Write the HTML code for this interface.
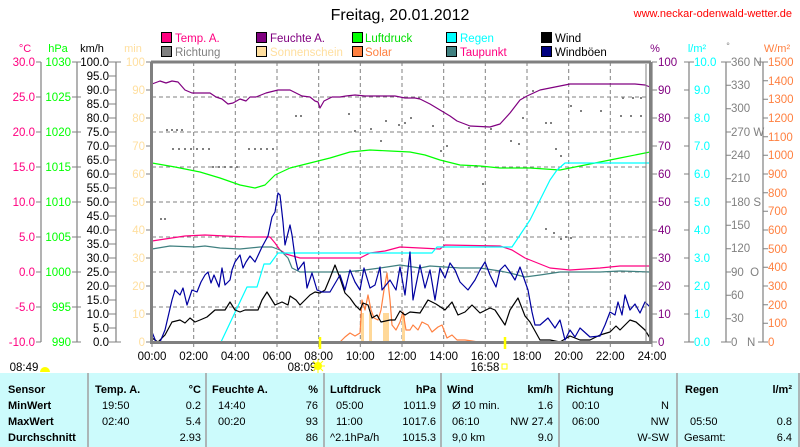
<!DOCTYPE html>
<html><head><meta charset="utf-8"><style>
html,body{margin:0;padding:0;background:#fff;}
svg{display:block;font-family:"Liberation Sans",sans-serif;}
</style></head><body>
<svg width="800" height="447" viewBox="0 0 800 447" xmlns="http://www.w3.org/2000/svg">
<rect width="800" height="447" fill="#fff"/>
<text x="400" y="20" font-size="16" text-anchor="middle" fill="#000">Freitag, 20.01.2012</text>
<text x="792" y="17" font-size="11" text-anchor="end" fill="#ff0000">www.neckar-odenwald-wetter.de</text>
<!-- legend -->
<g font-size="11.5" stroke="#000" stroke-width="1">
<rect x="161.5" y="32.5" width="10" height="10" fill="#ff0080"/><rect x="161.5" y="46.5" width="10" height="10" fill="#808080"/>
<rect x="256.5" y="32.5" width="10" height="10" fill="#800080"/><rect x="256.5" y="46.5" width="10" height="10" fill="#ffdf9f"/>
<rect x="352.5" y="32.5" width="10" height="10" fill="#00ff00"/><rect x="352.5" y="46.5" width="10" height="10" fill="#ff8040"/>
<rect x="446.5" y="32.5" width="10" height="10" fill="#00ffff"/><rect x="446.5" y="46.5" width="10" height="10" fill="#408080"/>
<rect x="541.5" y="32.5" width="10" height="10" fill="#000000"/><rect x="541.5" y="46.5" width="10" height="10" fill="#000080"/>
</g>
<g font-size="11.5" stroke="none">
<text x="175" y="42" fill="#ff0080">Temp. A.</text><text x="175" y="56" fill="#808080">Richtung</text>
<text x="270" y="42" fill="#800080">Feuchte A.</text><text x="270" y="56" fill="#ffdf9f">Sonnenschein</text>
<text x="365" y="42" fill="#00dd00">Luftdruck</text><text x="365" y="56" fill="#ff8040">Solar</text>
<text x="460" y="42" fill="#00ffff">Regen</text><text x="460" y="56" fill="#ff0080">Taupunkt</text>
<text x="555" y="42" fill="#000">Wind</text><text x="555" y="56" fill="#000">Windböen</text>
</g>
<!-- axis unit labels -->
<g font-size="11">
<text x="25" y="52" text-anchor="middle" fill="#ff0080">°C</text>
<text x="58" y="52" text-anchor="middle" fill="#00ff00">hPa</text>
<text x="92" y="52" text-anchor="middle" fill="#000">km/h</text>
<text x="133" y="52" text-anchor="middle" fill="#ffdf9f">min</text>
<text x="655" y="52" text-anchor="middle" fill="#800080">%</text>
<text x="697" y="52" text-anchor="middle" fill="#00ffff">l/m²</text>
<text x="728" y="49" text-anchor="middle" fill="#808080" font-size="9">°</text>
<text x="777" y="52" text-anchor="middle" fill="#ff8040">W/m²</text>
</g>
<!-- axes lines -->
<g stroke="#808080" stroke-width="1.2">
<line x1="41" y1="62" x2="41" y2="342"/><line x1="77" y1="62" x2="77" y2="342"/><line x1="116" y1="62" x2="116" y2="342"/>
<line x1="652" y1="62" x2="652" y2="342"/><line x1="689" y1="62" x2="689" y2="342"/><line x1="726" y1="62" x2="726" y2="342"/><line x1="763" y1="62" x2="763" y2="342"/>
</g>
<g font-size="11.5" id="leftax">
<!-- °C -->
<g fill="#ff0080" text-anchor="end">
<text x="35" y="66">30.0</text><text x="35" y="101">25.0</text><text x="35" y="136">20.0</text><text x="35" y="171">15.0</text><text x="35" y="206">10.0</text><text x="35" y="241">5.0</text><text x="35" y="276">0.0</text><text x="35" y="311">-5.0</text><text x="35" y="346">-10.0</text>
</g>
<g stroke="#808080"><path d="M36 62h5M36 97h5M36 132h5M36 167h5M36 202h5M36 237h5M36 272h5M36 307h5M36 342h5"/>
<path d="M72 62h5M72 97h5M72 132h5M72 167h5M72 202h5M72 237h5M72 272h5M72 307h5M72 342h5"/>
<path d="M77 62h4M77 97h4M77 132h4M77 167h4M77 202h4M77 237h4M77 272h4M77 307h4M77 342h4"/>
<path d="M109 62h12M109 76h7M109 90h7M109 104h7M109 118h7M109 132h7M109 146h7M109 160h7M109 174h7M109 188h7M109 202h7M109 216h7M109 230h7M109 244h7M109 258h7M109 272h7M109 286h7M109 300h7M109 314h7M109 328h7M109 342h12"/>
<path d="M146 62h5M146 90h5M146 118h5M146 146h5M146 174h5M146 202h5M146 230h5M146 258h5M146 286h5M146 314h5M146 342h5"/>
<path d="M652 62h5M652 90h5M652 118h5M652 146h5M652 174h5M652 202h5M652 230h5M652 258h5M652 286h5M652 314h5M652 342h5"/>
<path d="M684 62h10M684 90h5M684 118h5M684 146h5M684 174h5M684 202h5M684 230h5M684 258h5M684 286h5M684 314h5M684 342h10"/>
<path d="M721 62h10M726 85.3h5M726 108.7h5M726 132h5M726 155.3h5M726 178.7h5M726 202h5M726 225.3h5M726 248.7h5M726 272h5M726 295.3h5M726 318.7h5M721 342h10"/>
<path d="M758 62h10M763 80.7h5M763 99.3h5M763 118h5M763 136.7h5M763 155.3h5M763 174h5M763 192.7h5M763 211.3h5M763 230h5M763 248.7h5M763 267.3h5M763 286h5M763 304.7h5M763 323.3h5M758 342h10"/>
</g>
<g fill="#00ff00" text-anchor="end">
<text x="71" y="66">1030</text><text x="71" y="101">1025</text><text x="71" y="136">1020</text><text x="71" y="171">1015</text><text x="71" y="206">1010</text><text x="71" y="241">1005</text><text x="71" y="276">1000</text><text x="71" y="311">995</text><text x="71" y="346">990</text>
</g>
<g fill="#000" text-anchor="end">
<text x="109" y="66">100.0</text><text x="109" y="80">95.0</text><text x="109" y="94">90.0</text><text x="109" y="108">85.0</text><text x="109" y="122">80.0</text><text x="109" y="136">75.0</text><text x="109" y="150">70.0</text><text x="109" y="164">65.0</text><text x="109" y="178">60.0</text><text x="109" y="192">55.0</text><text x="109" y="206">50.0</text><text x="109" y="220">45.0</text><text x="109" y="234">40.0</text><text x="109" y="248">35.0</text><text x="109" y="262">30.0</text><text x="109" y="276">25.0</text><text x="109" y="290">20.0</text><text x="109" y="304">15.0</text><text x="109" y="318">10.0</text><text x="109" y="332">5.0</text><text x="109" y="346">0.0</text>
</g>
<g fill="#ffdf9f" text-anchor="end">
<text x="145" y="66">100</text><text x="145" y="94">90</text><text x="145" y="122">80</text><text x="145" y="150">70</text><text x="145" y="178">60</text><text x="145" y="206">50</text><text x="145" y="234">40</text><text x="145" y="262">30</text><text x="145" y="290">20</text><text x="145" y="318">10</text><text x="145" y="346">0</text>
</g>
<g fill="#800080">
<text x="658" y="66">100</text><text x="658" y="94">90</text><text x="658" y="122">80</text><text x="658" y="150">70</text><text x="658" y="178">60</text><text x="658" y="206">50</text><text x="658" y="234">40</text><text x="658" y="262">30</text><text x="658" y="290">20</text><text x="658" y="318">10</text><text x="658" y="346">0</text>
</g>
<g fill="#00ffff">
<text x="694" y="66">10.0</text><text x="694" y="94">9.0</text><text x="694" y="122">8.0</text><text x="694" y="150">7.0</text><text x="694" y="178">6.0</text><text x="694" y="206">5.0</text><text x="694" y="234">4.0</text><text x="694" y="262">3.0</text><text x="694" y="290">2.0</text><text x="694" y="318">1.0</text><text x="694" y="346">0.0</text>
</g>
<g fill="#808080">
<text x="731" y="66">360 N</text><text x="731" y="89">330</text><text x="731" y="112">300</text><text x="731" y="136">270 W</text><text x="731" y="159">240</text><text x="731" y="182">210</text><text x="731" y="206">180 S</text><text x="731" y="229">150</text><text x="731" y="252">120</text><text x="731" y="276">90&#160;&#160;O</text><text x="731" y="299">60</text><text x="731" y="322">30</text><text x="731" y="346">0&#160;&#160;&#160;N</text>
</g>
<g fill="#ff8040">
<text x="768" y="66">1500</text><text x="768" y="85">1400</text><text x="768" y="103">1300</text><text x="768" y="122">1200</text><text x="768" y="141">1100</text><text x="768" y="159">1000</text><text x="768" y="178">900</text><text x="768" y="197">800</text><text x="768" y="215">700</text><text x="768" y="234">600</text><text x="768" y="253">500</text><text x="768" y="271">400</text><text x="768" y="290">300</text><text x="768" y="309">200</text><text x="768" y="327">100</text><text x="768" y="346">0</text>
</g>
</g>
<!-- grid -->
<g stroke="#808080" stroke-dasharray="4,3" stroke-width="1">
<path d="M193.7 62V342M235.3 62V342M277 62V342M318.7 62V342M360.3 62V342M402 62V342M443.7 62V342M485.3 62V342M527 62V342M568.7 62V342M610.3 62V342"/>
<path d="M152 97H650M152 132H650M152 167H650M152 202H650M152 237H650M152 272H650M152 307H650"/>
</g>
<!-- direction dots -->
<g fill="#808080">
<rect x="166" y="129" width="2" height="2"/><rect x="171" y="129" width="2" height="2"/><rect x="176" y="129" width="2" height="2"/><rect x="181" y="129" width="2" height="2"/>
<rect x="172" y="148" width="2" height="2"/><rect x="178" y="148" width="2" height="2"/><rect x="184" y="148" width="2" height="2"/><rect x="190" y="148" width="2" height="2"/><rect x="196" y="148" width="2" height="2"/><rect x="202" y="148" width="2" height="2"/><rect x="208" y="148" width="2" height="2"/>
<rect x="160" y="218" width="2" height="2"/><rect x="164" y="218" width="2" height="2"/>
<rect x="212" y="166" width="2" height="2"/><rect x="218" y="166" width="2" height="2"/><rect x="224" y="166" width="2" height="2"/><rect x="230" y="166" width="2" height="2"/><rect x="236" y="166" width="2" height="2"/>
<rect x="248" y="148" width="2" height="2"/><rect x="254" y="148" width="2" height="2"/><rect x="260" y="148" width="2" height="2"/><rect x="266" y="148" width="2" height="2"/><rect x="272" y="148" width="2" height="2"/>
<rect x="295" y="115" width="2" height="2"/><rect x="300" y="115" width="2" height="2"/><rect x="348" y="113" width="2" height="2"/><rect x="354" y="130" width="2" height="2"/><rect x="370" y="128" width="2" height="2"/><rect x="380" y="140" width="2" height="2"/><rect x="385" y="120" width="2" height="2"/><rect x="398" y="124" width="2" height="2"/><rect x="404" y="122" width="2" height="2"/><rect x="410" y="117" width="2" height="2"/><rect x="418" y="97" width="2" height="2"/><rect x="432" y="125" width="2" height="2"/><rect x="440" y="150" width="2" height="2"/><rect x="446" y="145" width="2" height="2"/><rect x="468" y="127" width="2" height="2"/><rect x="475" y="165" width="2" height="2"/><rect x="482" y="183" width="2" height="2"/><rect x="490" y="128" width="2" height="2"/><rect x="510" y="140" width="2" height="2"/><rect x="518" y="143" width="2" height="2"/><rect x="522" y="117" width="2" height="2"/><rect x="532" y="90" width="2" height="2"/><rect x="545" y="122" width="2" height="2"/><rect x="550" y="122" width="2" height="2"/><rect x="555" y="148" width="2" height="2"/><rect x="560" y="155" width="2" height="2"/><rect x="570" y="105" width="2" height="2"/><rect x="580" y="110" width="2" height="2"/><rect x="600" y="110" width="2" height="2"/><rect x="620" y="115" width="2" height="2"/><rect x="630" y="115" width="2" height="2"/><rect x="640" y="115" width="2" height="2"/><rect x="622" y="97" width="2" height="2"/><rect x="632" y="97" width="2" height="2"/><rect x="640" y="97" width="2" height="2"/>
<rect x="545" y="228" width="2" height="2"/><rect x="553" y="232" width="2" height="2"/><rect x="560" y="238" width="2" height="2"/><rect x="565" y="236" width="2" height="2"/><rect x="570" y="237" width="2" height="2"/>
</g>
<!-- sunshine bars -->
<g fill="#ffd898">
<rect x="361" y="313" width="3" height="29"/><rect x="369" y="313" width="3" height="29"/><rect x="383" y="313" width="3" height="29"/><rect x="386" y="313" width="3" height="29"/><rect x="402" y="316" width="3" height="26"/>
</g>
<g fill="none" stroke-width="1.2" stroke-linejoin="round">
<polyline stroke="#ff8040" points="322,342 340,342 345,337 350,333 355,336 360,333 362,300 365,310 368,295 371,310 374,318 378,320 381,310 384,290 387,273 390,300 392,325 396,330 400,322 403,312 406,330 410,330 413,325 418,330 422,322 428,325 432,332 438,327 442,325 447,338 452,335 457,340 465,340 472,341 478,342"/>
<polyline stroke="#00ff00" points="152,163 175,167 200,172 220,178 240,185 255,188 265,185 275,175 290,168 310,163 330,158 350,152 370,150 390,151 410,152 425,155 440,160 460,165 480,166 500,168 530,168 560,170 580,166 600,162 620,158 640,154 650,152"/>
<polyline stroke="#800080" points="152,84 160,81 166,83 172,81 178,82 185,90 192,93 210,93 216,97 222,99 228,104 233,103 240,99 246,101 250,97 256,97 266,93 278,90 290,90 302,96 310,97 315,101 318,102 320,108 324,101 332,97 340,97 346,96 355,95 365,96 380,96 395,96 405,98 415,98 420,99 430,104 440,110 450,116 457,121 470,126 490,127 500,124 510,113 520,100 527,96 540,90 555,87 570,84 600,84 620,84 635,84 645,85 650,87"/>
<polyline stroke="#ff0080" points="152,241 165,239 185,236 205,235 225,236 250,237 270,237 275,243 280,250 286,254 300,258 340,258 360,258 370,253 385,251 400,247 440,249 445,245 500,246 512,250 525,258 550,268 570,270 600,268 620,266 650,266"/>
<polyline stroke="#408080" points="152,249 170,246 195,247 205,246 220,248 240,249 260,247 272,247 280,250 288,258 292,268 300,272 320,272 345,272 365,270 380,268 400,265 420,268 430,266 460,268 480,268 500,271 510,273 525,277 540,275 560,272 600,272 620,271 650,272"/>
<polyline stroke="#00ffff" points="221,342 247,287 257,287 264,264 270,264 278,253 432,253 437,247 512,247 520,235 530,220 540,200 550,180 557,170 565,163 650,163"/>
<polyline stroke="#000" points="152,338 158,342 165,335 172,322 180,320 185,323 190,318 195,322 200,320 207,317 215,310 225,310 230,302 235,310 240,312 245,310 250,310 258,310 262,300 267,292 275,305 282,302 288,305 290,296 296,300 300,305 305,300 310,295 315,292 320,293 325,290 330,278 335,265 340,278 345,293 350,298 355,305 360,310 363,303 368,305 372,318 377,315 381,322 390,320 395,320 400,311 405,315 410,312 420,313 428,300 436,304 445,310 452,302 458,315 465,312 472,305 480,313 490,308 495,310 505,325 510,310 518,298 525,316 530,322 540,340 550,340 560,342 570,336 580,340 590,340 600,335 610,332 616,326 620,330 630,320 636,322 645,330 650,338"/>
<polyline stroke="#0000a0" points="152,332 156,342 160,342 165,330 172,300 175,290 180,295 183,288 187,305 192,290 197,292 201,282 205,275 208,272 211,283 214,275 219,287 222,268 225,285 230,280 232,270 235,262 240,255 243,268 246,262 250,256 255,262 262,247 268,236 272,217 275,212 278,193 280,195 283,222 285,245 290,225 292,235 295,257 298,270 304,262 307,288 312,273 317,290 322,292 330,292 340,275 345,290 350,270 355,282 360,290 364,268 370,288 375,285 380,267 382,290 390,280 396,290 400,267 405,295 410,252 413,300 420,265 425,288 430,270 435,300 440,268 445,278 450,263 455,270 460,282 468,290 475,280 480,270 485,262 490,275 496,287 500,270 505,265 510,272 515,280 520,267 528,290 532,312 535,325 540,325 548,318 555,328 560,320 565,340 570,330 575,337 580,328 590,337 600,336 605,325 610,312 615,315 618,302 622,315 625,295 630,310 635,304 640,313 645,302 650,307"/>
</g>
<!-- frame -->
<path d="M151.5 62V342.5H650.5V62" fill="none" stroke="#808080" stroke-width="3"/>
<line x1="151" y1="62" x2="651" y2="62" stroke="#808080" stroke-width="3"/>
<line x1="646" y1="64" x2="646" y2="341" stroke="#808080" stroke-width="1"/>
<g stroke="#808080"><path d="M152 342v5M193.7 342v5M235.3 342v5M277 342v5M318.7 342v5M360.3 342v5M402 342v5M443.7 342v5M485.3 342v5M527 342v5M568.7 342v5M610.3 342v5M652 342v5"/></g>
<g stroke="#ffff00" stroke-width="2.5"><line x1="320" y1="337" x2="320" y2="349"/><line x1="505" y1="337" x2="505" y2="349"/></g>
<g font-size="11.5" text-anchor="middle" fill="#000">
<text x="152" y="360">00:00</text><text x="193.7" y="360">02:00</text><text x="235.3" y="360">04:00</text><text x="277" y="360">06:00</text><text x="318.7" y="360">08:00</text><text x="360.3" y="360">10:00</text><text x="402" y="360">12:00</text><text x="443.7" y="360">14:00</text><text x="485.3" y="360">16:00</text><text x="527" y="360">18:00</text><text x="568.7" y="360">20:00</text><text x="610.3" y="360">22:00</text><text x="652" y="360">24:00</text>
<text x="24" y="371">08:49</text><text x="302" y="371">08:09</text><text x="485" y="371">16:58</text>
</g>
<path d="M40 372 a5 5 0 0 1 10 0z" fill="#ffff00"/>
<circle cx="318" cy="366" r="4" fill="#ffff00"/><g stroke="#ffff00"><path d="M318 359v14M311 366h14M313 361l10 10M323 361l-10 10"/></g>
<rect x="502" y="364" width="5" height="5" fill="none" stroke="#ffff00"/>
<!-- table -->
<rect x="0" y="373" width="800" height="74" fill="#ccfbfc"/>
<g stroke="#a0a0a0" stroke-width="1.5"><path d="M88 373V447M206 373V447M324 373V447M441 373V447M559 373V447M677 373V447M799 373V447"/></g>
<g font-size="11" fill="#000">
<g font-weight="bold">
<text x="8" y="393">Sensor</text><text x="8" y="409">MinWert</text><text x="8" y="425">MaxWert</text><text x="8" y="441">Durchschnitt</text>
<text x="95" y="393">Temp. A.</text><text x="201" y="393" text-anchor="end">°C</text>
<text x="212" y="393">Feuchte A.</text><text x="318" y="393" text-anchor="end">%</text>
<text x="330" y="393">Luftdruck</text><text x="436" y="393" text-anchor="end">hPa</text>
<text x="447" y="393">Wind</text><text x="553" y="393" text-anchor="end">km/h</text>
<text x="566" y="393">Richtung</text>
<text x="685" y="393">Regen</text><text x="792" y="393" text-anchor="end">l/m²</text>
</g>
<text x="102" y="409">19:50</text><text x="201" y="409" text-anchor="end">0.2</text>
<text x="102" y="425">02:40</text><text x="201" y="425" text-anchor="end">5.4</text>
<text x="201" y="441" text-anchor="end">2.93</text>
<text x="218" y="409">14:40</text><text x="318" y="409" text-anchor="end">76</text>
<text x="218" y="425">00:20</text><text x="318" y="425" text-anchor="end">93</text>
<text x="318" y="441" text-anchor="end">86</text>
<text x="336" y="409">05:00</text><text x="436" y="409" text-anchor="end">1011.9</text>
<text x="336" y="425">11:00</text><text x="436" y="425" text-anchor="end">1017.6</text>
<text x="330" y="441">^2.1hPa/h</text><text x="436" y="441" text-anchor="end">1015.3</text>
<text x="452" y="409">Ø 10 min.</text><text x="553" y="409" text-anchor="end">1.6</text>
<text x="452" y="425">06:10</text><text x="553" y="425" text-anchor="end">NW 27.4</text>
<text x="452" y="441">9,0 km</text><text x="553" y="441" text-anchor="end">9.0</text>
<text x="572" y="409">00:10</text><text x="669" y="409" text-anchor="end">N</text>
<text x="572" y="425">06:00</text><text x="669" y="425" text-anchor="end">NW</text>
<text x="669" y="441" text-anchor="end">W-SW</text>
<text x="690" y="425">05:50</text><text x="792" y="425" text-anchor="end">0.8</text>
<text x="684" y="441">Gesamt:</text><text x="792" y="441" text-anchor="end">6.4</text>
</g>
</svg>
</body></html>
